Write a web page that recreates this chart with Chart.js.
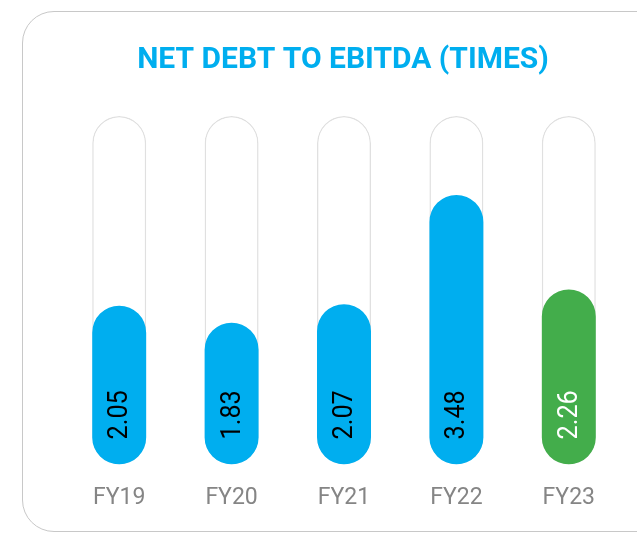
<!DOCTYPE html>
<html>
<head>
<meta charset="utf-8">
<script src="https://cdn.jsdelivr.net/npm/chart.js@4"></script>
<style>
  html, body { margin: 0; padding: 0; background: #fff; }
  #wrap { position: relative; width: 637px; height: 535px; overflow: hidden; }
  .card {
    position: absolute; left: 22px; top: 11px; width: 700px; height: 521px;
    border: 1.5px solid #c8c8c8; border-radius: 32px; box-sizing: border-box;
  }
  canvas { position: absolute; left: 0; top: 0; }
</style>
</head>
<body>
<div id="wrap">
  <div class="card"></div>
  <canvas id="chart" width="637" height="535"></canvas>
</div>
<script>
'use strict';

var chartTitle = 'NET DEBT TO EBITDA (TIMES)';
var years = ['FY19', 'FY20', 'FY21', 'FY22', 'FY23'];
var ratios = [2.05, 1.83, 2.07, 3.48, 2.26];
var barColors = ['#00aeef', '#00aeef', '#00aeef', '#00aeef', '#43ad4b'];
var labelColors = ['#000', '#000', '#000', '#000', '#fff'];
var trackMax = 4.5;

// title drawn by hand so it can sit centred over the card
var titlePlugin = {
    id: 'cardTitle',
    afterDraw: function (chart) {
        let ctx = chart.ctx;
        ctx.save();
        ctx.font = 'bold 30px Roboto';
        ctx.fillStyle = '#00aeef';
        ctx.textAlign = 'center';
        ctx.textBaseline = 'alphabetic';
        ctx.fillText(chartTitle, 343, 68);
        ctx.restore();
    }
};

// rotated value inside each bar
var valuePlugin = {
    id: 'barValues',
    afterDatasetsDraw: function (chart) {
        let ctx = chart.ctx;
        let meta = chart.getDatasetMeta(1);
        meta.data.forEach(function (bar, i) {
            ctx.save();
            ctx.translate(bar.x, bar.base - 25);
            ctx.rotate(-Math.PI / 2);
            ctx.scale(0.9, 1);
            ctx.font = '28px Roboto';
            ctx.fillStyle = labelColors[i];
            ctx.textAlign = 'left';
            ctx.textBaseline = 'middle';
            ctx.fillText(ratios[i].toFixed(2), 0, 1);
            ctx.restore();
        });
    }
};

new Chart(document.getElementById('chart'), {
    type: 'bar',
    data: {
        labels: years,
        datasets: [{
            data: years.map(function () { return trackMax; }),
            backgroundColor: '#ffffff',
            borderColor: '#e0e0e0',
            borderWidth: 1.5,
            borderRadius: 30,
            borderSkipped: false,
            order: 2
        }, {
            data: ratios,
            backgroundColor: barColors,
            borderWidth: 0,
            borderRadius: 30,
            borderSkipped: false,
            order: 1
        }]
    },
    options: {
        responsive: false,
        animation: false,
        events: [],
        layout: {
            padding: { top: 116, left: 63, right: 12, bottom: 3 }
        },
        datasets: {
            bar: { grouped: false, barPercentage: 0.48, categoryPercentage: 1 }
        },
        plugins: {
            legend: { display: false },
            tooltip: { enabled: false },
            title: { display: false }
        },
        scales: {
            y: { display: false, min: 0, max: trackMax },
            x: {
                grid: { display: false, drawTicks: false },
                border: { display: false },
                ticks: {
                    padding: 20,
                    color: '#858585',
                    font: { family: 'Roboto', size: 23 }
                }
            }
        }
    },
    plugins: [titlePlugin, valuePlugin]
});
</script>
</body>
</html>
